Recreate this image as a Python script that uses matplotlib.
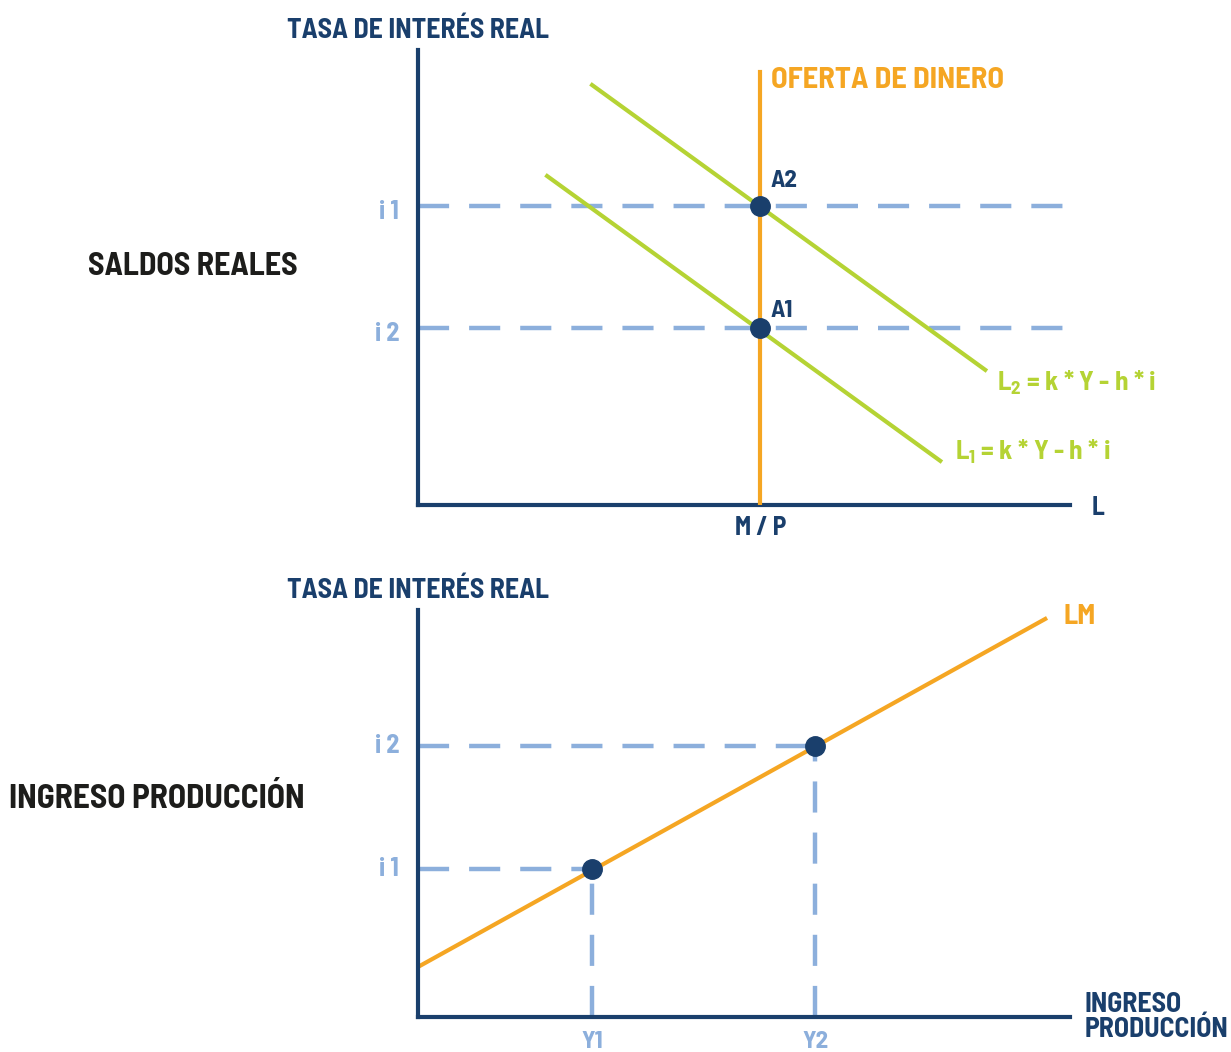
import matplotlib.pyplot as plt

NAVY = "#1a3f6c"
ORANGE = "#f5a623"
GREEN = "#b5d334"
LIGHT = "#8cafdc"
DARK = "#1d1d1b"

plt.rcParams["font.family"] = ["Barlow Semi Condensed", "Barlow Condensed", "DejaVu Sans"]
plt.rcParams["font.weight"] = "bold"
plt.rcParams["mathtext.fontset"] = "custom"
plt.rcParams["mathtext.rm"] = "Barlow Semi Condensed:bold"

# --- top panel: money market (x and y in 0..100 units) ---
money_supply_x = 52.5
supply_top = 95.2
i_levels_top = {"i 1": 65.7, "i 2": 38.9}
L2_x = [26.7, 87.0]
L2_y = [92.3, 29.7]
L1_x = [19.8, 80.1]
L1_y = [72.3, 9.7]
eq_labels = ["A2", "A1"]
eq_y = [65.7, 38.9]

# --- bottom panel: LM curve ---
LM_x = [0, 96.2]
LM_y = [12.3, 97.8]
Y_points = [26.7, 60.9]
i_points = [36.4, 66.6]
Y_labels = ["Y1", "Y2"]
i_labels = ["i 1", "i 2"]

W, H = 1231, 1052
fig = plt.figure(figsize=(W / 100, H / 100), dpi=100)


def axes_px(x0, y0, x1, y1):
    # pixel box (left, top, right, bottom) -> figure axes
    return fig.add_axes([x0 / W, 1 - y1 / H, (x1 - x0) / W, (y1 - y0) / H])


def ftext(x, y, s, **kw):
    fig.text(x / W, 1 - y / H, s, **kw)


dash = dict(color=LIGHT, lw=3.2, dashes=(7, 4.5), solid_capstyle="butt")

# top axes
ax1 = axes_px(418, 50, 1070, 505)
ax1.set_xlim(0, 100)
ax1.set_ylim(0, 100)
for lbl, yv in i_levels_top.items():
    ax1.plot([0, 100], [yv, yv], **dash, zorder=1)
    ax1.text(-2.9, yv - 1.3, lbl, color=LIGHT, fontsize=19, ha="right", va="center")
ax1.plot(L2_x, L2_y, color=GREEN, lw=3, zorder=2)
ax1.plot(L1_x, L1_y, color=GREEN, lw=3, zorder=2)
ax1.plot([money_supply_x, money_supply_x], [0, supply_top], color=ORANGE, lw=3, zorder=3)
for lbl, yv, dy in zip(eq_labels, eq_y, [5.5, 3.7]):
    ax1.plot(money_supply_x, yv, "o", color=NAVY, ms=14, zorder=4)
    ax1.text(money_supply_x + 1.6, yv + dy, lbl, color=NAVY, fontsize=18, ha="left", va="center")
ax1.text(money_supply_x + 1.6, supply_top - 2.0, "OFERTA DE DINERO", color=ORANGE,
         fontsize=22, ha="left", va="center")
ax1.text(L2_x[1] + 1.8, L2_y[1] - 2.9, r"L$_\mathrm{2}$ = k * Y - h * i", color=GREEN,
         fontsize=19.5, ha="left", va="center")
ax1.text(L1_x[1] + 2.3, L1_y[1] + 2.0, r"L$_\mathrm{1}$ = k * Y - h * i", color=GREEN,
         fontsize=19.5, ha="left", va="center")
ax1.text(money_supply_x, -5.1, "M / P", color=NAVY, fontsize=18.5, ha="center", va="center")
ax1.text(103.3, -0.7, "L", color=NAVY, fontsize=18.5, ha="left", va="center")

# bottom axes
ax2 = axes_px(418, 610, 1070, 1017)
ax2.set_xlim(0, 100)
ax2.set_ylim(0, 100)
for xv, yv, xl, yl in zip(Y_points, i_points, Y_labels, i_labels):
    ax2.plot([0, xv], [yv, yv], **dash, zorder=1)
    ax2.plot([xv, xv], [0, yv], **dash, zorder=1)
    ax2.text(-2.9, yv, yl, color=LIGHT, fontsize=19, ha="right", va="center")
    ax2.text(xv, -6.2, xl, color=LIGHT, fontsize=18, ha="center", va="center")
ax2.plot(LM_x, LM_y, color=ORANGE, lw=3, zorder=2)
ax2.plot(Y_points, i_points, "o", color=NAVY, ms=14, zorder=4)
ax2.text(LM_x[1] + 2.8, LM_y[1] + 0.5, "LM", color=ORANGE, fontsize=20.5, ha="left", va="center")
ax2.text(102.3, 0, "INGRESO\nPRODUCCIÓN", color=NAVY, fontsize=20, ha="left", va="center",
         linespacing=1.02)

for ax in (ax1, ax2):
    ax.set_xticks([])
    ax.set_yticks([])
    for s in ("top", "right"):
        ax.spines[s].set_visible(False)
    for s in ("left", "bottom"):
        ax.spines[s].set_color(NAVY)
        ax.spines[s].set_linewidth(3)
    ax.patch.set_alpha(0)

ftext(418, 30, "TASA DE INTERÉS REAL", color=NAVY, fontsize=20, ha="center", va="center")
ftext(418, 590, "TASA DE INTERÉS REAL", color=NAVY, fontsize=20, ha="center", va="center")
ftext(193, 267, "SALDOS REALES", color=DARK, fontsize=23, ha="center", va="center")
ftext(157, 799, "INGRESO PRODUCCIÓN", color=DARK, fontsize=24, ha="center", va="center")

fig.savefig("out.png", dpi=100)
